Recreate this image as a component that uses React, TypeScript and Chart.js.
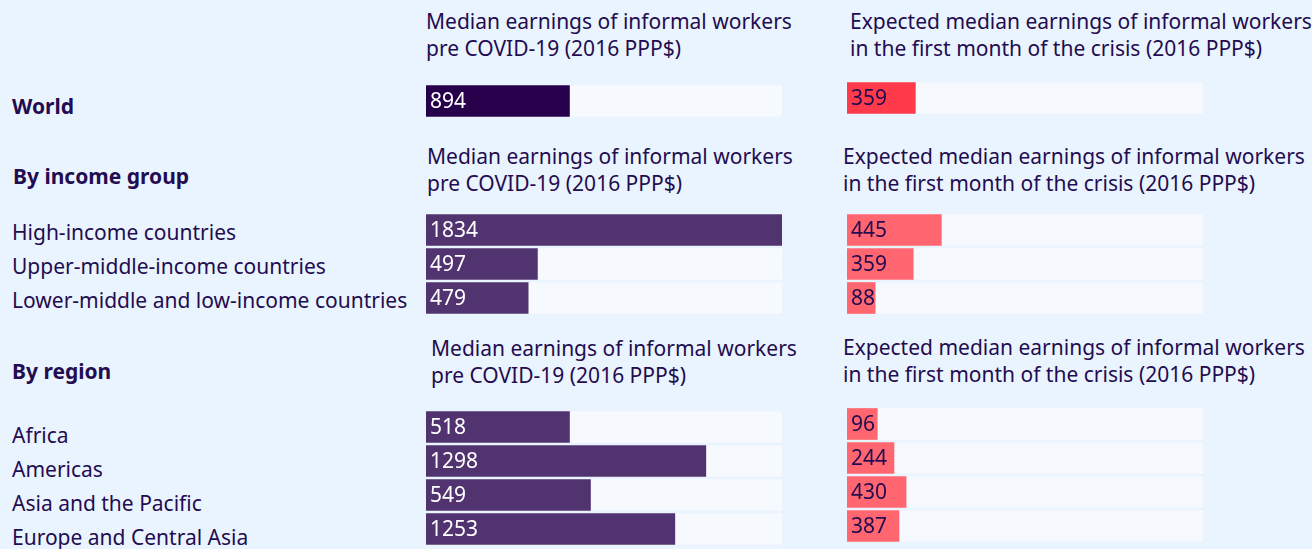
import React, { useEffect, useRef } from "react";
import { Chart, registerables } from "chart.js";

Chart.register(...registerables);

// ---- Data ----
const worldLabels = ["World"];
const incomeLabels = [
  "High-income countries",
  "Upper-middle-income countries",
  "Lower-middle and low-income countries",
];
const regionLabels = [
  "Africa",
  "Americas",
  "Asia and the Pacific",
  "Europe and Central Asia",
];

// printed values (2016 PPP$)
const worldPre = [894];
const worldCrisis = [359];
const incomePre = [1834, 497, 479];
const incomeCrisis = [445, 359, 88];
const regionPre = [518, 1298, 549, 1253];
const regionCrisis = [96, 244, 430, 387];

// bar lengths (% of the track)
const worldPreBar = [40.3];
const worldCrisisBar = [19.2];
const incomePreBar = [100, 31.3, 28.7];
const incomeCrisisBar = [26.5, 18.6, 7.9];
const regionPreBar = [40.3, 78.6, 46.2, 69.9];
const regionCrisisBar = [8.5, 13.2, 16.6, 14.6];

const trackMax = 100;

const preTitle = ["Median earnings of informal workers", "pre COVID-19 (2016 PPP$)"];
const crisisTitle = [
  "Expected median earnings of informal workers",
  "in the first month of the crisis (2016 PPP$)",
];

const FONT = "'Noto Sans', 'Open Sans', sans-serif";
const TEXT = "#230c50";
const BG = "#eaf4fe";
const TRACK = "#f6faff";
const FS = 21;

const PITCH = 34;
const THICK = 31;

type BarProps = {
  left: number;
  top: number;
  cats: string[];
  bars: number[];
  texts: number[];
  color: string;
  textColor: string;
};

function BarBlock({ left, top, cats, bars, texts, color, textColor }: BarProps) {
  const ref = useRef<HTMLCanvasElement | null>(null);
  const height = cats.length * PITCH;
  const width = 356;
  useEffect(() => {
    if (!ref.current) return;
    const labelPlugin = {
      id: "valueLabels",
      afterDatasetsDraw(chart: any) {
        const meta = chart.getDatasetMeta(0);
        const ctx = chart.ctx;
        ctx.save();
        ctx.font = `${FS}px ${FONT}`;
        ctx.fillStyle = textColor;
        ctx.textAlign = "left";
        ctx.textBaseline = "middle";
        meta.data.forEach((el: any, i: number) => {
          ctx.fillText(String(texts[i]), el.base + 4, el.y + 1);
        });
        ctx.restore();
      },
    };
    const chart = new Chart(ref.current, {
      type: "bar",
      data: {
        labels: cats,
        datasets: [
          {
            data: bars,
            backgroundColor: color,
            barThickness: THICK,
            grouped: false,
            order: 0,
          } as any,
          {
            data: cats.map(() => trackMax),
            backgroundColor: TRACK,
            barThickness: THICK,
            grouped: false,
            order: 1,
          } as any,
        ],
      },
      options: {
        indexAxis: "y",
        responsive: false,
        animation: false,
        devicePixelRatio: 1,
        layout: { padding: 0 },
        plugins: { legend: { display: false }, tooltip: { enabled: false } },
        scales: {
          x: { display: false, min: 0, max: trackMax },
          y: { display: false },
        },
      },
      plugins: [labelPlugin],
    });
    return () => chart.destroy();
  }, []);
  return (
    <canvas
      ref={ref}
      width={width}
      height={height}
      style={{ position: "absolute", left, top, width, height }}
    />
  );
}

function Title({ left, top, lines }: { left: number; top: number; lines: string[] }) {
  return (
    <div
      style={{
        position: "absolute",
        left,
        top,
        font: `${FS}px/27px ${FONT}`,
        color: TEXT,
        whiteSpace: "nowrap",
      }}
    >
      {lines.map((l, i) => (
        <div key={i}>{l}</div>
      ))}
    </div>
  );
}

function RowLabels({ left, top, lines, bold }: { left: number; top: number; lines: string[]; bold?: boolean }) {
  return (
    <div
      style={{
        position: "absolute",
        left,
        top,
        font: `${bold ? "bold " : ""}${FS}px/${PITCH}px ${FONT}`,
        color: TEXT,
        whiteSpace: "nowrap",
      }}
    >
      {lines.map((l, i) => (
        <div key={i}>{l}</div>
      ))}
    </div>
  );
}

export default function App() {
  useEffect(() => {
    document.body.style.margin = "0";
  }, []);
  return (
    <div
      style={{
        position: "fixed",
        left: 0,
        top: 0,
        width: 1312,
        height: 549,
        background: BG,
        overflow: "hidden",
      }}
    >
      {/* World */}
      <RowLabels left={12} top={89} lines={worldLabels} bold />
      <Title left={426} top={8} lines={preTitle} />
      <Title left={850} top={8} lines={crisisTitle} />
      <BarBlock left={426} top={84} cats={worldLabels} bars={worldPreBar} texts={worldPre} color="#27004c" textColor="#ffffff" />
      <BarBlock left={847} top={81} cats={worldLabels} bars={worldCrisisBar} texts={worldCrisis} color="#ff3b4b" textColor={TEXT} />

      {/* Income */}
      <RowLabels left={13} top={159} lines={["By income group"]} bold />
      <Title left={427} top={143} lines={preTitle} />
      <Title left={843} top={143} lines={crisisTitle} />
      <RowLabels left={12} top={215} lines={incomeLabels} />
      <BarBlock left={426} top={213} cats={incomeLabels} bars={incomePreBar} texts={incomePre} color="#513370" textColor="#ffffff" />
      <BarBlock left={847} top={213} cats={incomeLabels} bars={incomeCrisisBar} texts={incomeCrisis} color="#ff6670" textColor={TEXT} />

      {/* Region */}
      <RowLabels left={12} top={354} lines={["By region"]} bold />
      <Title left={431} top={335} lines={preTitle} />
      <Title left={843} top={334} lines={crisisTitle} />
      <RowLabels left={12} top={418} lines={regionLabels} />
      <BarBlock left={426} top={410} cats={regionLabels} bars={regionPreBar} texts={regionPre} color="#513370" textColor="#ffffff" />
      <BarBlock left={847} top={407} cats={regionLabels} bars={regionCrisisBar} texts={regionCrisis} color="#ff6670" textColor={TEXT} />
    </div>
  );
}
